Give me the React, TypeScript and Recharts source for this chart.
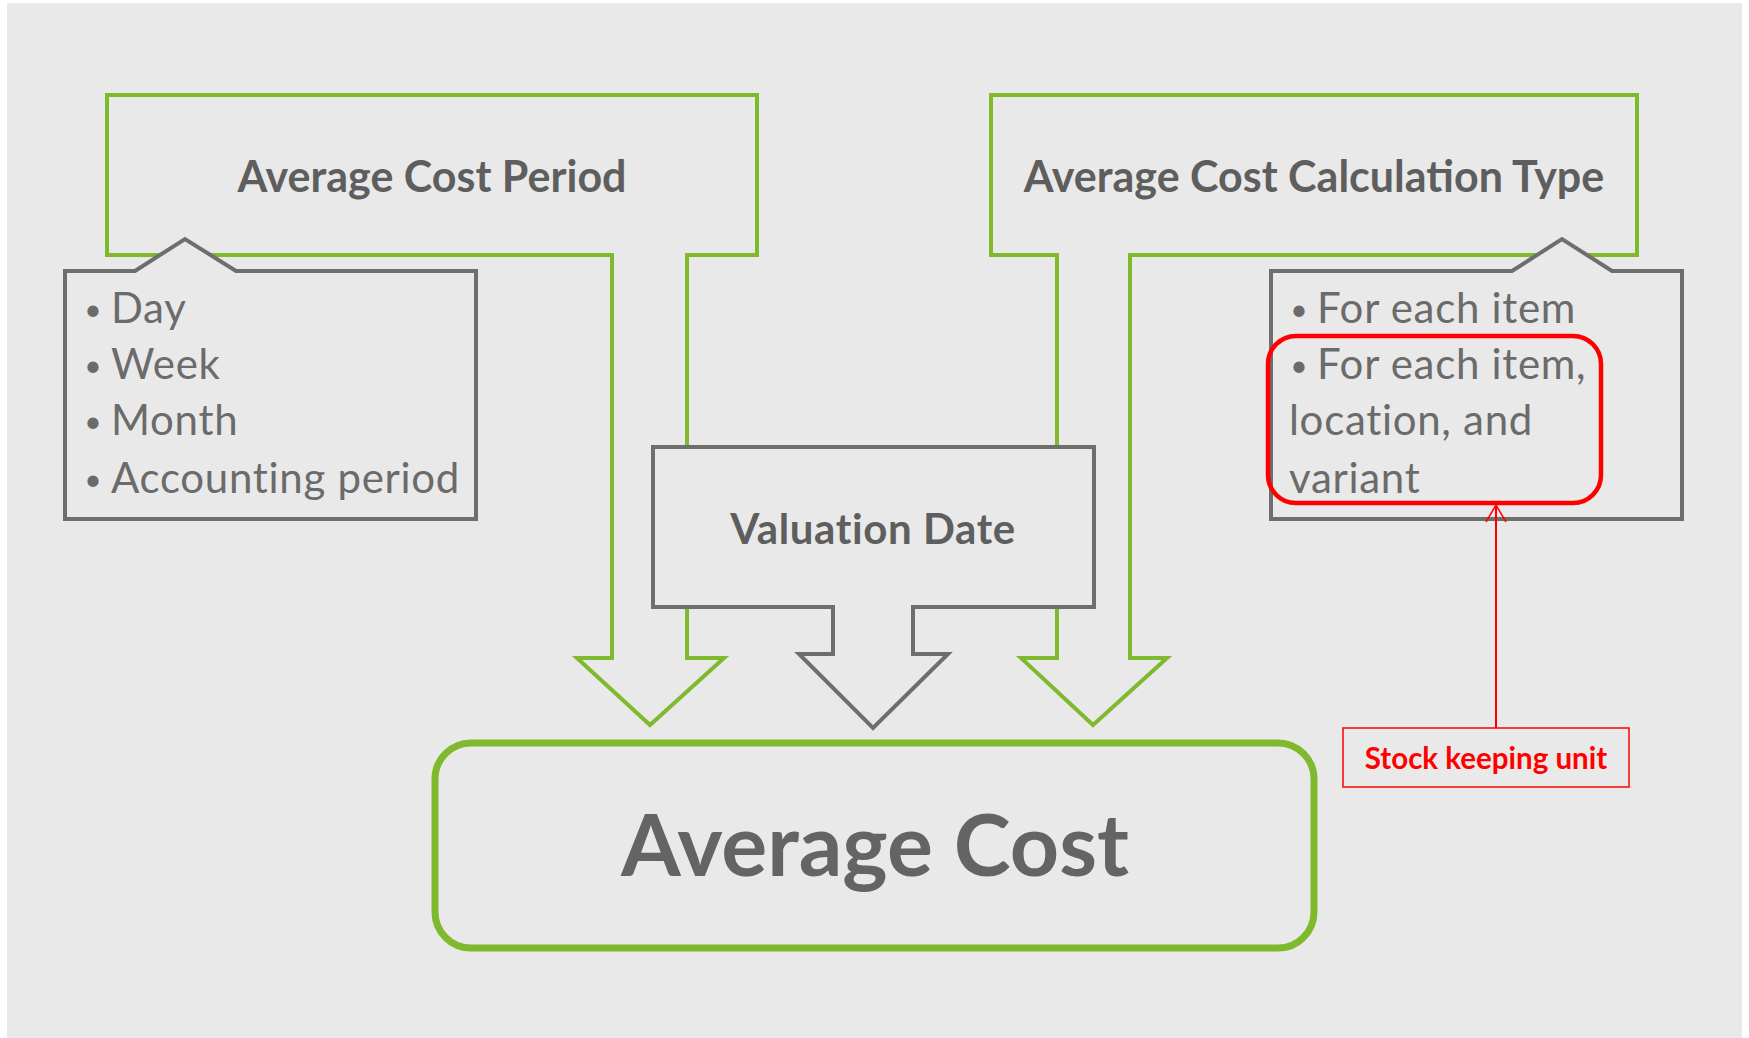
import React from 'react';
import { ScatterChart, Scatter, XAxis, YAxis, ReferenceArea, ReferenceLine } from 'recharts';

// diagram is drawn in "source pixel" units; the hidden axes map them onto the chart
const W = 1749;
const H = 1038;

const periodTitle = 'Average Cost Period';
const calcTitle = 'Average Cost Calculation Type';
const dateTitle = 'Valuation Date';
const costTitle = 'Average Cost';
const skuNote = 'Stock keeping unit';

const periodItems = ['Day', 'Week', 'Month', 'Accounting period'];
const calcItems = ['For each item', 'For each item,', 'location, and', 'variant'];
const calcBullets = [true, true, false, false];
const itemRows = [323, 379, 435, 493];

// anchors (x, baseline) for the labels
const periodTitleAt = [432, 192];
const calcTitleAt = [1314, 192];
const dateTitleAt = [873, 544];
const costTitleAt = [875, 876];
const skuNoteAt = [1486, 769];
const periodItemX = 111;
const calcItemX = [1317, 1317, 1289, 1289];

// outlines
const periodArrow: number[][] = [
  [107, 95], [757, 95], [757, 255], [687, 255], [687, 658], [724, 658],
  [650, 725], [577, 658], [612, 658], [612, 255], [107, 255],
];
const calcArrow: number[][] = [
  [991, 95], [1637, 95], [1637, 255], [1130, 255], [1130, 658], [1167, 658],
  [1093, 725], [1021, 658], [1057, 658], [1057, 255], [991, 255],
];
const dateArrow: number[][] = [
  [653, 447], [1094, 447], [1094, 607], [913, 607], [913, 654], [948, 654],
  [873, 728], [799, 654], [833, 654], [833, 607], [653, 607],
];
const periodCallout: number[][] = [
  [65, 271], [135, 271], [185, 239], [236, 271], [476, 271], [476, 519], [65, 519],
];
const calcCallout: number[][] = [
  [1271, 271], [1512, 271], [1562, 239], [1612, 271], [1682, 271], [1682, 519], [1271, 519],
];
const costBox = [435, 743, 1314, 948];
const skuHighlight = [1268, 336, 1601, 503];
const skuBox = [1343, 728, 1629, 787];
const skuPointer = [[1496, 728], [1496, 505]];
const skuHead = [[1486, 522], [1496, 505], [1506, 522]];
const canvas = [7, 3, 1742, 1038];

const BG = '#e9e9e9';
const GREEN = '#7fb92e';
const GREY = '#6e6e6e';
const RED = '#ff0000';
const FONT = 'Lato, "Open Sans", sans-serif';

const textStyles: Record<string, any> = {
  title: { fontSize: 43, fontWeight: 700, fill: '#5e5e5e', anchor: 'middle', spacing: 0 },
  date: { fontSize: 42, fontWeight: 700, fill: '#5e5e5e', anchor: 'middle', spacing: 0.6 },
  cost: { fontSize: 86, fontWeight: 700, fill: '#646464', anchor: 'middle', spacing: 0 },
  item: { fontSize: 42, fontWeight: 400, fill: '#6b6b6b', anchor: 'start', spacing: 0.7 },
  sku: { fontSize: 29.5, fontWeight: 700, fill: RED, anchor: 'middle', spacing: 0 },
};

const labels = [
  { x: periodTitleAt[0], y: periodTitleAt[1], text: periodTitle, kind: 'title' },
  { x: calcTitleAt[0], y: calcTitleAt[1], text: calcTitle, kind: 'title' },
  { x: dateTitleAt[0], y: dateTitleAt[1], text: dateTitle, kind: 'date' },
  { x: costTitleAt[0], y: costTitleAt[1], text: costTitle, kind: 'cost' },
  { x: skuNoteAt[0], y: skuNoteAt[1], text: skuNote, kind: 'sku' },
  ...periodItems.map((t, i) => ({ x: periodItemX, y: itemRows[i], text: t, kind: 'item', bullet: true })),
  ...calcItems.map((t, i) => ({ x: calcItemX[i], y: itemRows[i], text: t, kind: 'item', bullet: calcBullets[i] })),
];

const renderLabel = (p: any) => {
  const d = p.payload;
  const st = textStyles[d.kind];
  return (
    <g>
      {d.bullet && (
        <text x={p.cx - 18} y={p.cy - 3} textAnchor="middle" fontSize={30} fill={st.fill} fontFamily={FONT}>•</text>
      )}
      <text x={p.cx} y={p.cy} textAnchor={st.anchor} fontSize={st.fontSize} fontWeight={st.fontWeight}
        letterSpacing={st.spacing} fill={st.fill} fontFamily={FONT}>{d.text}</text>
    </g>
  );
};

// polygon drawn inside the rect the library computes for its bounding box
function polyArea(key: string, pts: number[][], stroke: string, sw: number, fill: string, closed = true) {
  const xs = pts.map((q) => q[0]);
  const ys = pts.map((q) => q[1]);
  const x0 = Math.min(...xs), x1 = Math.max(...xs), y0 = Math.min(...ys), y1 = Math.max(...ys);
  const shape = (r: any) => {
    const d = pts.map(([vx, vy], i) =>
      `${i ? 'L' : 'M'}${r.x + ((vx - x0) / (x1 - x0)) * r.width},${r.y + ((vy - y0) / (y1 - y0)) * r.height}`).join(' ');
    return <path d={closed ? d + ' Z' : d} fill={fill} stroke={stroke} strokeWidth={sw} strokeLinejoin="miter" />;
  };
  return <ReferenceArea key={key} x1={x0} x2={x1} y1={y0} y2={y1} shape={shape} ifOverflow="visible" />;
}

function roundArea(key: string, b: number[], stroke: string, sw: number, fill: string, rx: number) {
  const shape = (r: any) => (
    <rect x={r.x} y={r.y} width={r.width} height={r.height} rx={rx} ry={rx} fill={fill} stroke={stroke} strokeWidth={sw} />
  );
  return <ReferenceArea key={key} x1={b[0]} x2={b[2]} y1={b[1]} y2={b[3]} shape={shape} ifOverflow="visible" />;
}

export default function App() {
  return (
    <div style={{ width: W, height: H, background: '#fff' }}>
      <style>{'body{margin:0;}'}</style>
      <ScatterChart width={W} height={H} margin={{ top: 0, right: 0, bottom: 0, left: 0 }}>
        <XAxis type="number" dataKey="x" domain={[0, W]} hide />
        <YAxis type="number" dataKey="y" domain={[0, H]} reversed hide />
        {roundArea('bg', canvas, 'none', 0, BG, 0)}
        {polyArea('period', periodArrow, GREEN, 4, BG)}
        {polyArea('calc', calcArrow, GREEN, 4, BG)}
        {polyArea('periodCallout', periodCallout, GREY, 4, BG)}
        {polyArea('calcCallout', calcCallout, GREY, 4, BG)}
        {polyArea('date', dateArrow, GREY, 4, BG)}
        {roundArea('cost', costBox, GREEN, 7, BG, 36)}
        {roundArea('skuHi', skuHighlight, RED, 4.5, 'none', 28)}
        {roundArea('skuBox', skuBox, RED, 1.5, 'none', 0)}
        <ReferenceLine segment={[{ x: skuPointer[0][0], y: skuPointer[0][1] }, { x: skuPointer[1][0], y: skuPointer[1][1] }]}
          stroke={RED} strokeWidth={2} ifOverflow="visible" />
        <ReferenceLine segment={[{ x: skuHead[0][0], y: skuHead[0][1] }, { x: skuHead[1][0], y: skuHead[1][1] }]}
          stroke={RED} strokeWidth={1.5} ifOverflow="visible" />
        <ReferenceLine segment={[{ x: skuHead[2][0], y: skuHead[2][1] }, { x: skuHead[1][0], y: skuHead[1][1] }]}
          stroke={RED} strokeWidth={1.5} ifOverflow="visible" />
        <Scatter data={labels} shape={renderLabel} isAnimationActive={false} />
      </ScatterChart>
    </div>
  );
}
